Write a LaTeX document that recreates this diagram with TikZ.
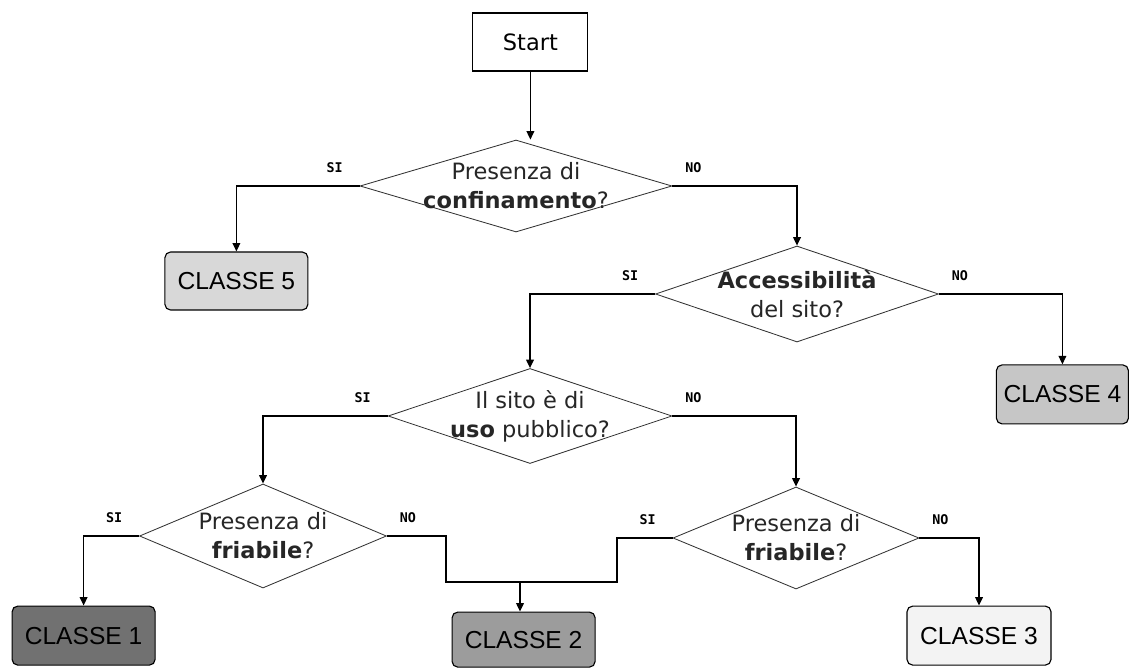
\documentclass[tikz,border=0pt]{standalone}
\usepackage{fontspec}
\setmainfont{DejaVu Sans}
\newfontfamily\classfont{Liberation Sans}
\newfontfamily\answerfont{DejaVu Sans Mono}
\usepackage{tikz}
\usetikzlibrary{shapes.geometric,positioning,arrows.meta}
\definecolor{cl1}{HTML}{717171}
\definecolor{cl2}{HTML}{9C9C9C}
\definecolor{cl3}{HTML}{F3F3F3}
\definecolor{cl4}{HTML}{C6C6C6}
\definecolor{cl5}{HTML}{D8D8D8}

\begin{document}
\begin{tikzpicture}[
  >={Triangle[length=6pt,width=5.5pt]},
  question/.style={draw=black!80,diamond,inner sep=0pt,line width=0.6pt},
  qtext/.style={align=center,font=\fontsize{16}{20.5}\selectfont,text=black!85},
  classbox/.style={draw,rectangle,rounded corners=4pt,line width=0.8pt,minimum width=3.575cm,minimum height=1.475cm,font=\classfont\fontsize{17.5}{20}\selectfont},
  answer/.style={font=\answerfont\bfseries\fontsize{9.5}{11}\selectfont},
  flow/.style={line width=0.9pt}
]
\useasboundingbox (0,0) rectangle (28.3,-16.725);

\node [draw,rectangle,line width=0.8pt,minimum width=2.875cm,minimum height=1.45cm,font=\fontsize{16}{18}\selectfont] (start) at(13.26,-1.05){Start};

% domande
\node [question,minimum width=7.8cm,minimum height=2.3cm,label={[qtext]center:Presenza di\\\textbf{confinamento}?}] (conf) at(12.9,-4.65){};
\node [question,minimum width=7.075cm,minimum height=2.4cm,label={[qtext]center:\textbf{Accessibilità}\\del sito?}] (acc) at(19.925,-7.35){};
\node [question,minimum width=7.1cm,minimum height=2.375cm,label={[qtext]center:Il sito è di\\\textbf{uso} pubblico?}] (uso) at(13.25,-10.4){};
\node [question,minimum width=6.175cm,minimum height=2.6cm,label={[qtext]center:Presenza di\\\textbf{friabile}?}] (fri1) at(6.575,-13.4){};
\node [question,minimum width=6.15cm,minimum height=2.55cm,label={[qtext]center:Presenza di\\\textbf{friabile}?}] (fri2) at(19.9,-13.45){};

% classi
\node [classbox,fill=cl5,minimum height=1.45cm] (c5) at(5.91,-7.025){CLASSE 5};
\node [classbox,fill=cl4,minimum width=3.3cm] (c4) at(26.56,-9.86){CLASSE 4};
\node [classbox,fill=cl1] (c1) at(2.09,-15.89){CLASSE 1};
\node [classbox,fill=cl2,minimum height=1.375cm] (c2) at(13.09,-15.99){CLASSE 2};
\node [classbox,fill=cl3,minimum width=3.6cm] (c3) at(24.475,-15.89){CLASSE 3};

% risposte
\node [answer,above left=0.2cm and 0.3cm of conf.west] (conf-si) {SI};
\node [answer,above right=0.2cm and 0.2cm of conf.east] (conf-no) {NO};
\node [answer,above left=0.2cm and 0.3cm of acc.west] (acc-si) {SI};
\node [answer,above right=0.2cm and 0.2cm of acc.east] (acc-no) {NO};
\node [answer,above left=0.2cm and 0.3cm of uso.west] (uso-si) {SI};
\node [answer,above right=0.2cm and 0.2cm of uso.east] (uso-no) {NO};
\node [answer,above left=0.2cm and 0.3cm of fri1.west] (fri1-si) {SI};
\node [answer,above right=0.2cm and 0.2cm of fri1.east] (fri1-no) {NO};
\node [answer,above left=0.2cm and 0.3cm of fri2.west] (fri2-si) {SI};
\node [answer,above right=0.2cm and 0.2cm of fri2.east] (fri2-no) {NO};

\coordinate (ml) at(11.15,-14.55);
\coordinate (mr) at(15.425,-14.55);
\coordinate (mid) at(13.0,-14.55);

\draw [->,flow] (start) -- (start |- conf.north);
\draw [->,flow] (conf.west) -| (c5);
\draw [->,flow] (conf.east) -| (acc);
\draw [->,flow] (acc.west) -| (uso);
\draw [->,flow] (acc.east) -| (c4);
\draw [->,flow] (uso.west) -| (fri1);
\draw [->,flow] (uso.east) -| (fri2);
\draw [->,flow] (fri1.west) -| (c1);
\draw [->,flow] (fri2.east) -| (c3);
\draw [flow] (fri1.east) -| (ml) -- (mr) |- (fri2.west);
\draw [->,flow] (mid) -- (mid |- c2.north);
\end{tikzpicture}
\end{document}
